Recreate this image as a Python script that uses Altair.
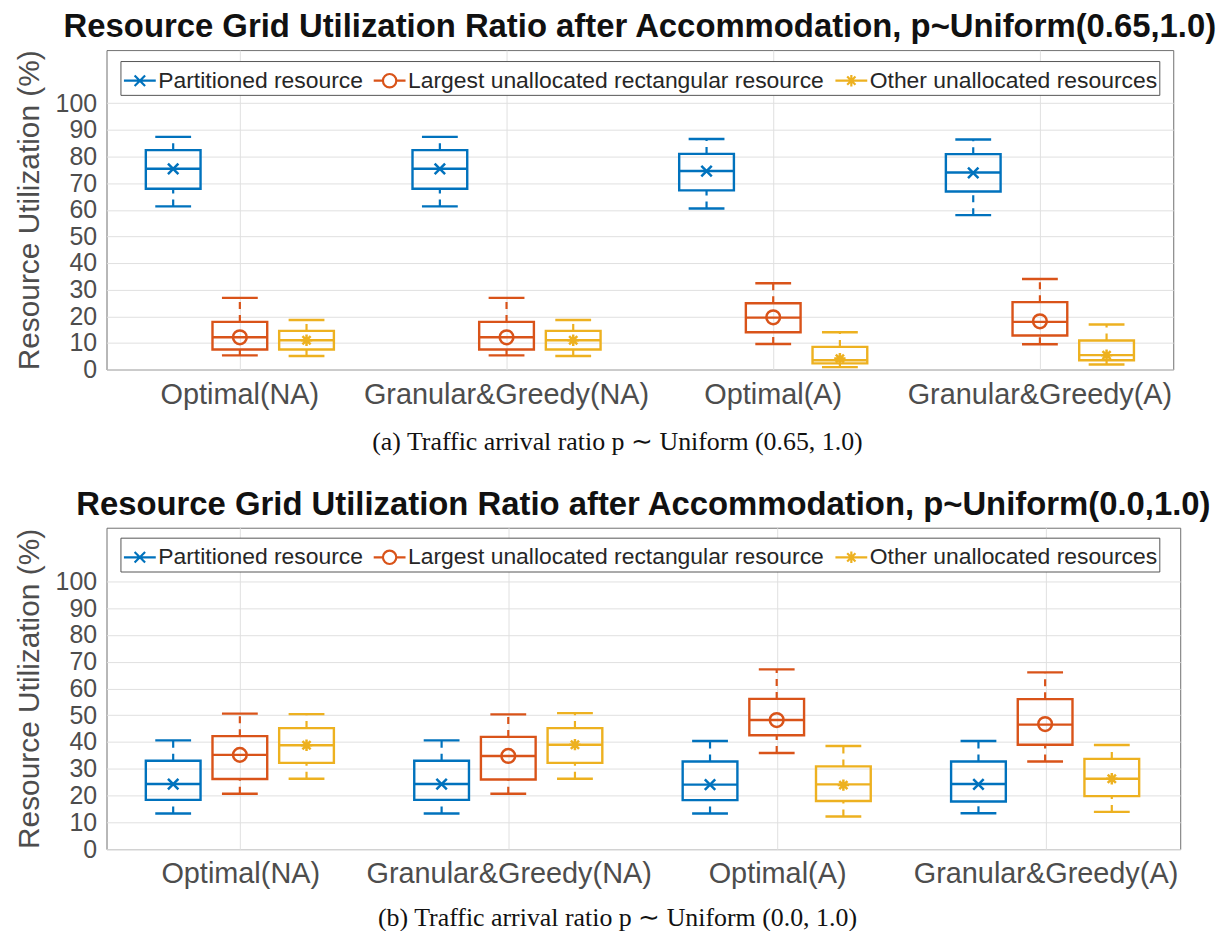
import altair as alt
import pandas as pd

# ---------------- data ----------------
categories = ["Optimal(NA)", "Granular&Greedy(NA)", "Optimal(A)", "Granular&Greedy(A)"]
series_names = [
    "Partitioned resource",
    "Largest unallocated rectangular resource",
    "Other unallocated resources",
]
stat_names = ["low", "q1", "median", "q3", "high", "mean"]

# panel (a): p ~ Uniform(0.65, 1.0); per category: [lower whisker, Q1, median, Q3, upper whisker, mean]
a_partitioned = [
    [61.3, 67.9, 75.4, 82.4, 87.4, 75.4],
    [61.3, 67.9, 75.4, 82.4, 87.4, 75.4],
    [60.5, 67.3, 74.6, 81.0, 86.6, 74.5],
    [58.0, 66.9, 74.0, 80.9, 86.4, 73.9],
]
a_largest = [
    [5.3, 7.5, 12.1, 17.9, 26.9, 12.1],
    [5.3, 7.5, 12.1, 17.9, 26.9, 12.1],
    [9.6, 14.0, 19.5, 24.9, 32.4, 19.6],
    [9.5, 12.8, 17.9, 25.3, 34.0, 18.1],
]
a_other = [
    [5.1, 7.5, 11.0, 14.5, 18.6, 11.0],
    [5.1, 7.5, 11.0, 14.5, 18.6, 11.0],
    [0.9, 2.3, 3.5, 8.5, 14.0, 4.1],
    [1.9, 3.5, 5.4, 10.9, 16.9, 5.4],
]

# panel (b): p ~ Uniform(0.0, 1.0)
b_partitioned = [
    [13.3, 18.4, 24.3, 33.0, 40.6, 24.3],
    [13.3, 18.4, 24.3, 33.0, 40.6, 24.3],
    [13.3, 18.3, 24.1, 32.7, 40.4, 24.1],
    [13.4, 17.8, 24.3, 32.7, 40.4, 24.2],
]
b_largest = [
    [20.7, 26.2, 35.2, 42.2, 50.6, 35.2],
    [20.7, 26.0, 34.8, 41.9, 50.3, 34.8],
    [35.9, 42.5, 48.2, 56.1, 67.1, 48.2],
    [32.7, 39.0, 46.5, 56.0, 66.0, 46.7],
]
b_other = [
    [26.3, 32.2, 38.8, 45.2, 50.4, 38.8],
    [26.3, 32.2, 39.0, 45.2, 50.8, 39.0],
    [12.2, 18.0, 24.2, 30.9, 38.5, 23.9],
    [13.9, 19.8, 26.3, 33.7, 38.9, 26.3],
]

y_ticks = [0, 10, 20, 30, 40, 50, 60, 70, 80, 90, 100]

# ---------------- styling ----------------
COLORS = ["#0072BD", "#D95319", "#EDB120"]
FONT = "Liberation Sans"
SERIF = "Liberation Serif"
TEXT_GRAY = "#4d4d4d"

MEAN_SHAPES = [
    "M-1,-1L1,1M-1,1L1,-1",
    "circle",
    "M-1,0L1,0M0,-1L0,1M-0.72,-0.72L0.72,0.72M-0.72,0.72L0.72,-0.72",
]
MEAN_SIZES = [110, 190, 130]

# legend symbols: line with the marker on top (circle drawn twice in opposite
# directions so that it has no filled interior)
LEGEND_SHAPES = [
    "M-1,0L1,0M-0.33,-0.33L0.33,0.33M-0.33,0.33L0.33,-0.33",
    "M-1,0L-0.42,0M0.42,0L1,0"
    "M-0.42,0A0.42,0.42,0,1,0,0.42,0A0.42,0.42,0,1,0,-0.42,0Z"
    "M-0.42,0A0.42,0.42,0,1,1,0.42,0A0.42,0.42,0,1,1,-0.42,0Z",
    "M-1,0L1,0M0,-0.36L0,0.36M-0.26,-0.26L0.26,0.26M-0.26,0.26L0.26,-0.26",
]


def build_df(rows_by_series):
    recs = []
    for s, rows in zip(series_names, rows_by_series):
        for c, r in zip(categories, rows):
            d = dict(zip(stat_names, r))
            d["category"] = c
            d["series"] = s
            recs.append(d)
    return pd.DataFrame(recs)


def panel(df, title, caption, w, h, caption_x, caption_pad, legend_y):
    x = alt.X(
        "category:N",
        sort=categories,
        scale=alt.Scale(domain=categories, paddingInner=0, paddingOuter=0),
        axis=alt.Axis(
            title=caption,
            labelAngle=0,
            labelFont=FONT,
            labelFontSize=29,
            labelColor=TEXT_GRAY,
            labelPadding=11,
            labelLimit=0,
            labelOverlap=False,
            ticks=False,
            domain=False,
            grid=True,
            gridColor="#e0e0e0",
            bandPosition=0.5,
            titleFont=SERIF,
            titleFontSize=26,
            titleFontWeight="normal",
            titleColor="#111111",
            titlePadding=caption_pad,
            titleX=caption_x,
        ),
    )
    xo = alt.XOffset(
        "series:N",
        sort=series_names,
        scale=alt.Scale(domain=series_names, paddingInner=0, paddingOuter=0.5),
    )
    leg = alt.Legend(
        title=None,
        orient="none",
        legendX=14,
        legendY=legend_y,
        direction="horizontal",
        fillColor="white",
        strokeColor="#555555",
        padding=2,
        labelFont=FONT,
        labelFontSize=23,
        labelColor="#262626",
        labelOffset=1,
        labelLimit=0,
        columnPadding=6,
        symbolSize=1024,
        symbolStrokeWidth=2.2,
        symbolOpacity=1,
        symbolFillColor="transparent",
    )
    cscale = alt.Scale(domain=series_names, range=COLORS)
    col = alt.Color("series:N", scale=cscale, legend=leg)
    yscale = alt.Scale(domain=[0, 120], nice=False, zero=True)
    yaxis = alt.Axis(
        title="Resource Utilization (%)",
        values=y_ticks,
        labelFont=FONT,
        labelFontSize=25,
        labelColor=TEXT_GRAY,
        labelPadding=10,
        labelOverlap=False,
        ticks=False,
        domain=False,
        grid=True,
        gridColor="#e0e0e0",
        titleFont=FONT,
        titleFontSize=30,
        titleFontWeight="normal",
        titleColor=TEXT_GRAY,
        titlePadding=11,
    )

    def yenc(f):
        return alt.Y(f, scale=yscale, axis=yaxis)

    base = alt.Chart(df)
    box = base.mark_bar(filled=False, strokeWidth=2.4, size=55).encode(
        x=x, xOffset=xo, y=yenc("q1:Q"), y2="q3:Q", color=col
    )
    med = base.mark_tick(size=55, thickness=2.4, opacity=1).encode(
        x=x, xOffset=xo, y=yenc("median:Q"), color=col
    )
    whisk_up = base.mark_rule(strokeWidth=2.2, strokeDash=[7, 6]).encode(
        x=x, xOffset=xo, y=yenc("q3:Q"), y2="high:Q", color=col
    )
    whisk_lo = base.mark_rule(strokeWidth=2.2, strokeDash=[7, 6]).encode(
        x=x, xOffset=xo, y=yenc("low:Q"), y2="q1:Q", color=col
    )
    cap_hi = base.mark_tick(size=36, thickness=2.4, opacity=1).encode(
        x=x, xOffset=xo, y=yenc("high:Q"), color=col
    )
    cap_lo = base.mark_tick(size=36, thickness=2.4, opacity=1).encode(
        x=x, xOffset=xo, y=yenc("low:Q"), color=col
    )
    means = []
    for s, shp, c, sz in zip(series_names, MEAN_SHAPES, COLORS, MEAN_SIZES):
        means.append(
            base.mark_point(
                shape=shp, filled=False, strokeWidth=2.5, size=sz, color=c, opacity=1
            )
            .encode(x=x, xOffset=xo, y=yenc("mean:Q"))
            .transform_filter(alt.datum.series == s)
        )
    legend_layer = (
        base.mark_point(filled=False, opacity=1)
        .encode(
            x=x,
            y=yenc("mean:Q"),
            color=col,
            shape=alt.Shape(
                "series:N",
                scale=alt.Scale(domain=series_names, range=LEGEND_SHAPES),
                legend=leg,
            ),
        )
        .transform_filter("false")
    )
    return alt.layer(
        box, whisk_up, whisk_lo, cap_hi, cap_lo, med, *means, legend_layer
    ).properties(
        width=w,
        height=h,
        title=alt.TitleParams(
            text=title,
            font=FONT,
            fontSize=33,
            fontWeight="bold",
            color="#111111",
            anchor="middle",
            frame="group",
            offset=-1,
            dy=-7,
        ),
    )


df_a = build_df([a_partitioned, a_largest, a_other])
df_b = build_df([b_partitioned, b_largest, b_other])

top = panel(
    df_a,
    "Resource Grid Utilization Ratio after Accommodation, p~Uniform(0.65,1.0)",
    "(a) Traffic arrival ratio p \u223c Uniform (0.65, 1.0)",
    1072,
    321,
    513,
    19,
    11,
)
bottom = panel(
    df_b,
    "Resource Grid Utilization Ratio after Accommodation, p~Uniform(0.0,1.0)",
    "(b) Traffic arrival ratio p \u223c Uniform (0.0, 1.0)",
    1079,
    323,
    513,
    16,
    10,
)

chart = (
    alt.vconcat(top, bottom, spacing=33)
    .resolve_scale(color="independent", shape="independent", x="independent", y="independent")
    .resolve_legend(color="independent", shape="independent")
    .properties(padding={"left": 5, "top": 0, "right": 5, "bottom": 5}, background="white")
    .configure_view(stroke="#707070", strokeWidth=1)
)

chart.save("out.html", embed_options={"renderer": "svg", "actions": False})
